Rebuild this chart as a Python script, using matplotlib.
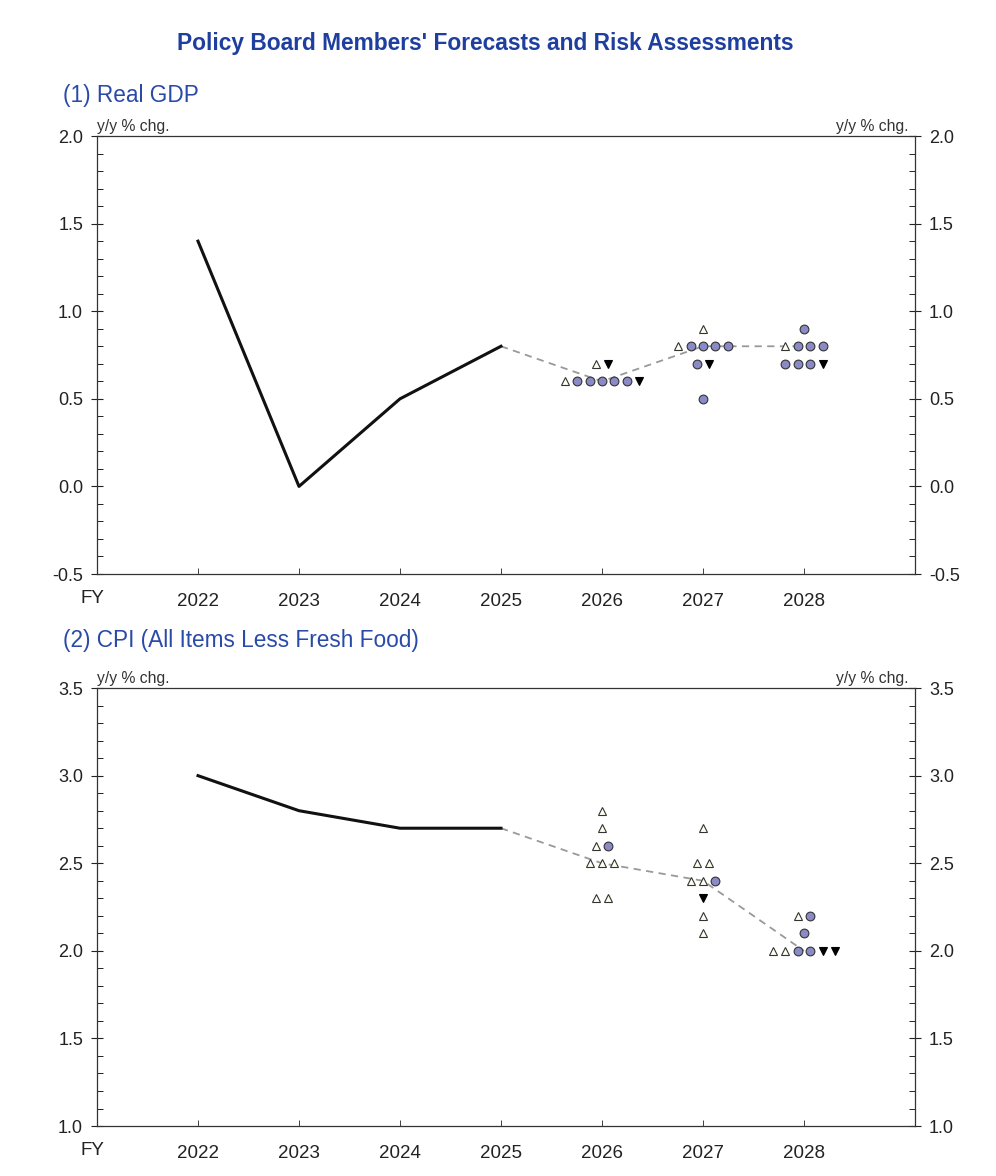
import matplotlib
matplotlib.use("Agg")
import matplotlib.pyplot as plt
from matplotlib.ticker import MultipleLocator

plt.rcParams['font.family'] = ['Liberation Sans', 'DejaVu Sans']

# actual values (solid line)
years_actual = [2022, 2023, 2024, 2025]
gdp_actual = [1.4, 0.0, 0.5, 0.8]
cpi_actual = [3.0, 2.8, 2.7, 2.7]

# median of forecasts (dashed line, starts at last actual)
years_median = [2025, 2026, 2027, 2028]
gdp_median = [0.8, 0.6, 0.8, 0.8]
cpi_median = [2.7, 2.5, 2.4, 2.0]

# members' forecasts by risk assessment: upside / balanced / downside
gdp_up = {2026: [0.7, 0.6], 2027: [0.9, 0.8], 2028: [0.8]}
gdp_mid = {2026: [0.6, 0.6, 0.6, 0.6, 0.6],
           2027: [0.8, 0.8, 0.8, 0.8, 0.7, 0.5],
           2028: [0.9, 0.8, 0.8, 0.8, 0.7, 0.7, 0.7]}
gdp_down = {2026: [0.7, 0.6], 2027: [0.7], 2028: [0.7]}

cpi_up = {2026: [2.8, 2.7, 2.6, 2.5, 2.5, 2.5, 2.3, 2.3],
          2027: [2.7, 2.5, 2.5, 2.4, 2.4, 2.2, 2.1],
          2028: [2.2, 2.0, 2.0]}
cpi_mid = {2026: [2.6], 2027: [2.4], 2028: [2.2, 2.1, 2.0, 2.0]}
cpi_down = {2026: [], 2027: [2.3], 2028: [2.0, 2.0]}

year_ticks = [2022, 2023, 2024, 2025, 2026, 2027, 2028]

styles = {
    'up': dict(marker='^', markersize=6.3, markerfacecolor='#fffff0', markeredgecolor='#333333', markeredgewidth=0.8),
    'mid': dict(marker='o', markersize=6.3, markerfacecolor='#8a8ac6', markeredgecolor='#333333', markeredgewidth=0.8),
    'down': dict(marker='v', markersize=6.3, markerfacecolor='black', markeredgecolor='black', markeredgewidth=0.8),
}

TITLE_BLUE = '#1f3f9f'
SUB_BLUE = '#2a4aa8'


def draw_members(ax, up, mid, down, step=0.123):
    for year in up:
        rows = {}
        for kind, src in (('up', up), ('mid', mid), ('down', down)):
            for v in src[year]:
                rows.setdefault(v, []).append(kind)
        for v, kinds in rows.items():
            n = len(kinds)
            for i, kind in enumerate(kinds):
                x = year + (i - (n - 1) / 2) * step
                ax.plot(x, v, linestyle='none', zorder=4, **styles[kind])


def setup_axis(ax, ylo, yhi):
    ax.set_xlim(2021, 2029.1)
    ax.set_ylim(ylo, yhi)
    ax.yaxis.set_major_locator(MultipleLocator(0.5))
    ax.yaxis.set_minor_locator(MultipleLocator(0.1))
    ax.yaxis.set_major_formatter(plt.FormatStrFormatter('%.1f'))
    ax.set_xticks(year_ticks)
    ax.set_xticklabels([str(y) for y in year_ticks])
    ax.tick_params(axis='y', which='major', direction='inout', length=8, width=0.8,
                   left=True, right=True, labelleft=True, labelright=True,
                   labelsize=13, pad=6, colors='#222222')
    ax.tick_params(axis='y', which='minor', direction='in', length=4, width=0.6,
                   left=True, right=True)
    ax.tick_params(axis='x', which='major', direction='in', length=4, width=0.6,
                   labelsize=13.5, pad=14, colors='#222222')
    for s in ax.spines.values():
        s.set_linewidth(0.9)
        s.set_color('#333333')
    ax.text(0.0, 1.005, 'y/y % chg.', transform=ax.transAxes, fontsize=11.3,
            ha='left', va='bottom', color='#333333')
    ax.text(0.992, 1.005, 'y/y % chg.', transform=ax.transAxes, fontsize=11.3,
            ha='right', va='bottom', color='#333333')
    ax.text(-0.006, -0.037, 'FY', transform=ax.transAxes, fontsize=13.5,
            ha='center', va='top', color='#222222')


fig = plt.figure(figsize=(9.96, 11.76), dpi=100)
ax1 = fig.add_axes([0.0974, 0.5119, 0.8213, 0.3724])
ax2 = fig.add_axes([0.0974, 0.0425, 0.8213, 0.3724])

for ax, actual, median, up, mid, down, lims in (
        (ax1, gdp_actual, gdp_median, gdp_up, gdp_mid, gdp_down, (-0.5, 2.0)),
        (ax2, cpi_actual, cpi_median, cpi_up, cpi_mid, cpi_down, (1.0, 3.5))):
    setup_axis(ax, *lims)
    ax.plot(years_actual, actual, color='#111111', linewidth=2.2, zorder=3)
    ax.plot(years_median, median, color='#999999', linewidth=1.3,
            linestyle=(0, (4, 3)), zorder=2)
    draw_members(ax, up, mid, down)

fig.text(0.487, 0.963, "Policy Board Members' Forecasts and Risk Assessments",
         ha='center', va='center', fontsize=16.4, fontweight='bold', color=TITLE_BLUE)
fig.text(0.063, 0.919, '(1) Real GDP', ha='left', va='center', fontsize=16.3, color=SUB_BLUE)
fig.text(0.063, 0.455, '(2) CPI (All Items Less Fresh Food)', ha='left', va='center',
         fontsize=16.3, color=SUB_BLUE)

fig.savefig('out.png', dpi=100)
